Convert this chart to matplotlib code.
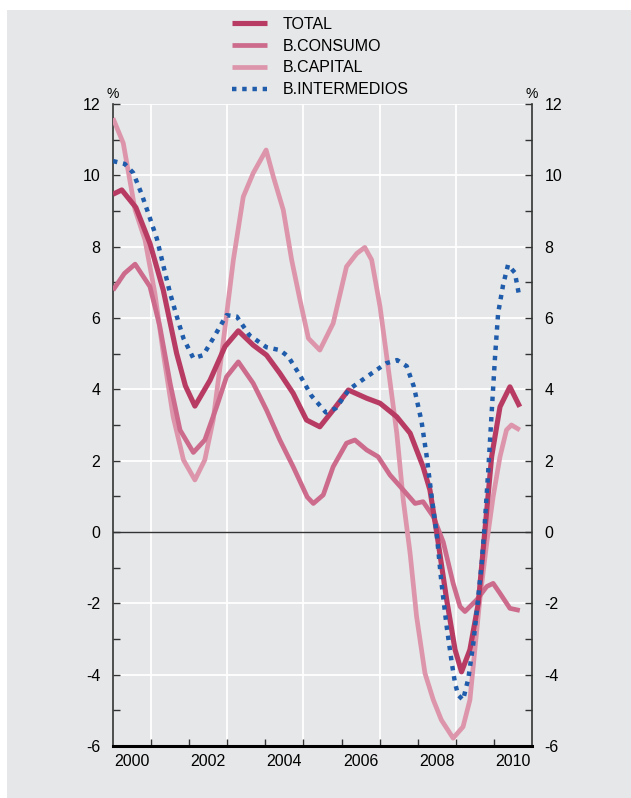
import matplotlib
matplotlib.use("Agg")
import matplotlib.pyplot as plt
from matplotlib.patches import Rectangle
from matplotlib.ticker import FixedLocator, MultipleLocator

plt.rcParams['font.family'] = ['Liberation Sans', 'DejaVu Sans']
plt.rcParams['axes.unicode_minus'] = False

# values (year, %)
total_x = [2000.0, 2000.23, 2000.6, 2000.97, 2001.32, 2001.67, 2001.9, 2002.15, 2002.55, 2002.94,
           2003.29, 2003.68, 2004.03, 2004.38, 2004.73, 2005.08, 2005.43, 2005.78, 2006.18,
           2006.66, 2007.01, 2007.45, 2007.8, 2008.14, 2008.32, 2008.5, 2008.76, 2008.98,
           2009.15, 2009.37, 2009.59, 2009.76, 2009.94, 2010.16, 2010.42, 2010.68]
total_y = [9.47, 9.59, 9.1, 8.09, 6.78, 5.01, 4.1, 3.53, 4.26, 5.2,
           5.64, 5.24, 4.96, 4.45, 3.89, 3.14, 2.95, 3.42, 3.98,
           3.75, 3.61, 3.23, 2.77, 1.83, 1.18, -0.03, -1.9, -3.3,
           -3.92, -3.3, -2.0, 0.0, 2.11, 3.51, 4.07, 3.51]

consumo_x = [2000.0, 2000.3, 2000.58, 2000.97, 2001.23, 2001.5, 2001.76, 2002.11, 2002.41, 2002.72,
             2002.98, 2003.29, 2003.68, 2004.03, 2004.38, 2004.73, 2005.1, 2005.26, 2005.52,
             2005.78, 2006.13, 2006.35, 2006.66, 2006.96, 2007.27, 2007.62, 2007.93, 2008.14,
             2008.41, 2008.67, 2008.93, 2009.11, 2009.24, 2009.55, 2009.81, 2009.98, 2010.16,
             2010.42, 2010.68]
consumo_y = [6.78, 7.25, 7.51, 6.88, 5.76, 4.17, 2.86, 2.23, 2.58, 3.51,
             4.35, 4.77, 4.17, 3.42, 2.58, 1.83, 0.98, 0.8, 1.04,
             1.83, 2.49, 2.58, 2.3, 2.11, 1.6, 1.18, 0.8, 0.85,
             0.43, -0.28, -1.44, -2.09, -2.23, -1.9, -1.53, -1.44, -1.72,
             -2.14, -2.2]

capital_x = [2000.0, 2000.27, 2000.58, 2000.84, 2001.1, 2001.32, 2001.58, 2001.85, 2002.15, 2002.41,
             2002.63, 2002.9, 2003.16, 2003.42, 2003.68, 2003.9, 2004.02, 2004.21, 2004.47,
             2004.69, 2004.91, 2005.13, 2005.43, 2005.78, 2006.13, 2006.4, 2006.61, 2006.79,
             2007.01, 2007.22, 2007.45, 2007.62, 2007.8, 2007.97, 2008.19, 2008.41, 2008.62,
             2008.93, 2009.19, 2009.37, 2009.5, 2009.63, 2009.81, 2009.98, 2010.16, 2010.33,
             2010.46, 2010.68]
capital_y = [11.6, 10.9, 9.03, 8.19, 6.69, 5.01, 3.23, 2.02, 1.46, 2.02,
             3.14, 5.38, 7.63, 9.4, 10.06, 10.48, 10.71, 9.96, 9.03,
             7.63, 6.5, 5.43, 5.1, 5.85, 7.44, 7.81, 7.98, 7.63,
             6.32, 4.64, 2.77, 0.9, -0.6, -2.37, -3.96, -4.71, -5.27,
             -5.78, -5.46, -4.71, -3.3, -1.9, -0.32, 0.99, 2.11, 2.86,
             3.0, 2.86]

interm_x = [2000.0, 2000.31, 2000.53, 2000.75, 2000.95, 2001.15, 2001.36, 2001.5, 2001.67, 2001.85,
            2002.11, 2002.37, 2002.68, 2002.98, 2003.25, 2003.58, 2004.03, 2004.38, 2004.6,
            2004.91, 2005.21, 2005.59, 2005.85, 2006.2, 2006.66, 2007.17, 2007.46, 2007.71,
            2007.9, 2008.1, 2008.23, 2008.36, 2008.5, 2008.62, 2008.76, 2008.89, 2008.98,
            2009.06, 2009.19, 2009.33, 2009.46, 2009.59, 2009.68, 2009.76, 2009.85, 2009.94,
            2010.03, 2010.11, 2010.24, 2010.37, 2010.55, 2010.66]
interm_y = [10.4, 10.32, 10.07, 9.48, 8.86, 8.23, 7.3, 6.69, 6.06, 5.43,
            4.87, 4.96, 5.52, 6.08, 6.04, 5.52, 5.18, 5.1, 4.92,
            4.39, 3.82, 3.35, 3.47, 4.0, 4.35, 4.73, 4.82, 4.65,
            4.07, 3.1, 2.16, 1.04, -0.08, -1.39, -2.65, -3.64, -4.24,
            -4.57, -4.71, -4.1, -3.12, -1.81, -0.88, 0.24, 1.69, 3.33,
            4.92, 6.13, 6.92, 7.49, 7.27, 6.64]

year_labels = ['2000', '2002', '2004', '2006', '2008', '2010']

bg = '#e6e7e8'
fig = plt.figure(figsize=(6.31, 7.98), dpi=100, facecolor='white')
fig.patches.append(Rectangle((7 / 631, 0), 1, 1 - 10 / 798, transform=fig.transFigure,
                             facecolor=bg, edgecolor='none', zorder=-10))

ax = fig.add_axes([113 / 631, 1 - 746 / 798, 419 / 631, 642 / 798])
ax.set_facecolor(bg)

# grid lines
for v in range(-6, 13, 2):
    if v != 0:
        ax.axhline(v, color='white', lw=1.3, zorder=1)
for yr in [2001, 2003, 2005, 2007, 2009]:
    ax.axvline(yr, color='white', lw=1.3, zorder=1)
ax.axhline(0, color='#333333', lw=1.0, zorder=2)

ax.plot(capital_x, capital_y, color='#dd95ab', lw=3.4, label='B.CAPITAL', zorder=3,
        solid_capstyle='butt', solid_joinstyle='round')
ax.plot(consumo_x, consumo_y, color='#cd6b8d', lw=3.4, label='B.CONSUMO', zorder=4,
        solid_capstyle='butt', solid_joinstyle='round')
ax.plot(total_x, total_y, color='#b83b63', lw=3.7, label='TOTAL', zorder=5,
        solid_capstyle='butt', solid_joinstyle='round')
ax.plot(interm_x, interm_y, color='#1f5cab', lw=3.2, linestyle=(0, (1, 1.3)),
        dash_capstyle='butt', label='B.INTERMEDIOS', zorder=6)

ax.set_xlim(2000, 2011)
ax.set_ylim(-6, 12)

ax.xaxis.set_major_locator(FixedLocator(list(range(2001, 2011))))
ax.xaxis.set_major_formatter(plt.NullFormatter())
ax.set_xticks([2000.5, 2002.5, 2004.5, 2006.5, 2008.5, 2010.5], year_labels, minor=True)
ax.tick_params(axis='x', which='major', direction='in', length=5, width=1, color='#333333')
ax.tick_params(axis='x', which='minor', length=0, pad=6, labelsize=11.5)

ax.yaxis.set_major_locator(MultipleLocator(2))
ax.yaxis.set_minor_locator(MultipleLocator(1))
ax.tick_params(axis='y', which='both', direction='in', left=True, right=True,
               labelleft=True, labelright=True, color='#333333', width=1)
ax.tick_params(axis='y', which='major', length=5, pad=9, labelsize=11.5)
ax.tick_params(axis='y', which='minor', length=5)

ax.spines['top'].set_visible(False)
ax.spines['left'].set_color('#333333')
ax.spines['right'].set_color('#333333')
ax.spines['left'].set_linewidth(1.2)
ax.spines['right'].set_linewidth(1.2)
ax.spines['bottom'].set_color('black')
ax.spines['bottom'].set_linewidth(2.2)

fig.text(113 / 631, 1 - 98 / 798, '%', ha='center', va='baseline', fontsize=10)
fig.text(532 / 631, 1 - 98 / 798, '%', ha='center', va='baseline', fontsize=10)

h, l = ax.get_legend_handles_labels()
order = [2, 1, 0, 3]
fig.legend([h[i] for i in order], [l[i] for i in order], loc='upper left',
           bbox_to_anchor=(232 / 631, 1 - 17 / 798), frameon=False, fontsize=11.5,
           borderpad=0, borderaxespad=0, handlelength=2.2, handletextpad=1.0,
           labelspacing=0.42)

fig.savefig('out.png', dpi=100, facecolor='white')
